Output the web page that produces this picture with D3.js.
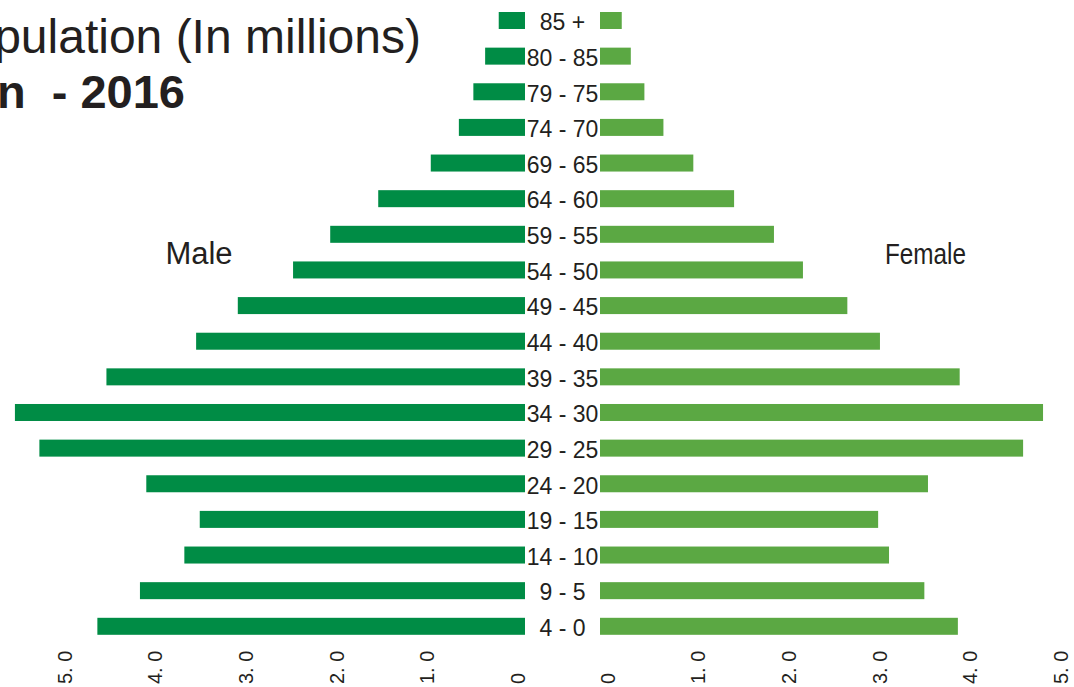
<!DOCTYPE html>
<html>
<head>
<meta charset="utf-8">
<script src="https://cdn.jsdelivr.net/npm/d3@7"></script>
<style>
  html, body { margin: 0; padding: 0; background: #fff; }
  svg { display: block; }
  text { font-family: "Liberation Sans", Arial, Helvetica, sans-serif; fill: #231f20; white-space: pre; }
</style>
</head>
<body>
<svg id="chart" width="1074" height="687"></svg>
<script>
// ---- data (millions) ----
const ageGroups = ["85 +", "80 - 85", "79 - 75", "74 - 70", "69 - 65", "64 - 60", "59 - 55",
  "54 - 50", "49 - 45", "44 - 40", "39 - 35", "34 - 30", "29 - 25", "24 - 20",
  "19 - 15", "14 - 10", "9 - 5", "4 - 0"];
const maleValues = [0.29, 0.44, 0.57, 0.73, 1.04, 1.62, 2.15, 2.56, 3.17, 3.63, 4.62, 5.63, 5.36, 4.18, 3.59, 3.76, 4.25, 4.72];
const femaleValues = [0.24, 0.34, 0.49, 0.70, 1.03, 1.48, 1.92, 2.24, 2.73, 3.09, 3.97, 4.89, 4.67, 3.62, 3.07, 3.19, 3.58, 3.95];
const tickValues = [0, 1, 2, 3, 4, 5];
const tickLabels = ["0", "1. 0", "2. 0", "3. 0", "4. 0", "5. 0"];
const titleLine1 = "Iran Population (In millions)";
const titleLine2 = "Iran  - 2016";
const maleLabel = "Male";
const femaleLabel = "Female";

const maleColor = "#008c45";
const femaleColor = "#5ba843";

const svg = d3.select("#chart");

const y = d3.scalePoint().domain(ageGroups).range([20.5, 626.3]);
const barH = 17;
const xMale = d3.scaleLinear().domain([0, 5]).range([525, 72]);
const xFemale = d3.scaleLinear().domain([0, 5]).range([600, 1053]);

// male bars
svg.append("g").selectAll("rect")
  .data(ageGroups.map((a, i) => ({ age: a, v: maleValues[i] })))
  .join("rect")
  .attr("x", d => xMale(d.v))
  .attr("y", d => y(d.age) - barH / 2)
  .attr("width", d => xMale(0) - xMale(d.v))
  .attr("height", barH)
  .attr("fill", maleColor);

// female bars
svg.append("g").selectAll("rect")
  .data(ageGroups.map((a, i) => ({ age: a, v: femaleValues[i] })))
  .join("rect")
  .attr("x", xFemale(0))
  .attr("y", d => y(d.age) - barH / 2)
  .attr("width", d => xFemale(d.v) - xFemale(0))
  .attr("height", barH)
  .attr("fill", femaleColor);

// age labels
svg.append("g").selectAll("text")
  .data(ageGroups)
  .join("text")
  .attr("x", 562.5)
  .attr("y", d => y(d) + 1.5)
  .attr("dy", "0.36em")
  .attr("text-anchor", "middle")
  .style("font-size", "23px")
  .text(d => d);

// axes
function styleAxis(g) {
  g.select(".domain").remove();
  g.selectAll(".tick line").remove();
  g.selectAll(".tick text")
    .attr("transform", "rotate(-90)")
    .attr("x", 0).attr("y", 0)
    .attr("dy", "0.36em")
    .attr("text-anchor", "start")
    .style("font-size", "20px")
    .style("font-family", "\"Liberation Sans\", Arial, sans-serif")
    .attr("fill", "#231f20");
}
const fmt = v => tickLabels[tickValues.indexOf(v)];
svg.append("g")
  .attr("transform", "translate(-8,684)")
  .call(d3.axisBottom(xMale).tickValues(tickValues).tickFormat(fmt))
  .call(styleAxis);
svg.append("g")
  .attr("transform", "translate(7,684)")
  .call(d3.axisBottom(xFemale).tickValues(tickValues).tickFormat(fmt))
  .call(styleAxis);

// Male / Female labels
svg.append("text").attr("x", 199).attr("y", 264).attr("text-anchor", "middle")
  .style("font-size", "31px").text(maleLabel);
svg.append("text").attr("x", 885).attr("y", 264)
  .attr("textLength", 81).attr("lengthAdjust", "spacingAndGlyphs")
  .style("font-size", "29px").text(femaleLabel);

// titles (cropped on the left)
svg.append("text").attr("x", 421).attr("y", 53).attr("text-anchor", "end")
  .style("font-size", "48px").text(titleLine1);
svg.append("text").attr("x", 185).attr("y", 108).attr("text-anchor", "end")
  .style("font-size", "47px").style("font-weight", "bold").text(titleLine2);
</script>
</body>
</html>
